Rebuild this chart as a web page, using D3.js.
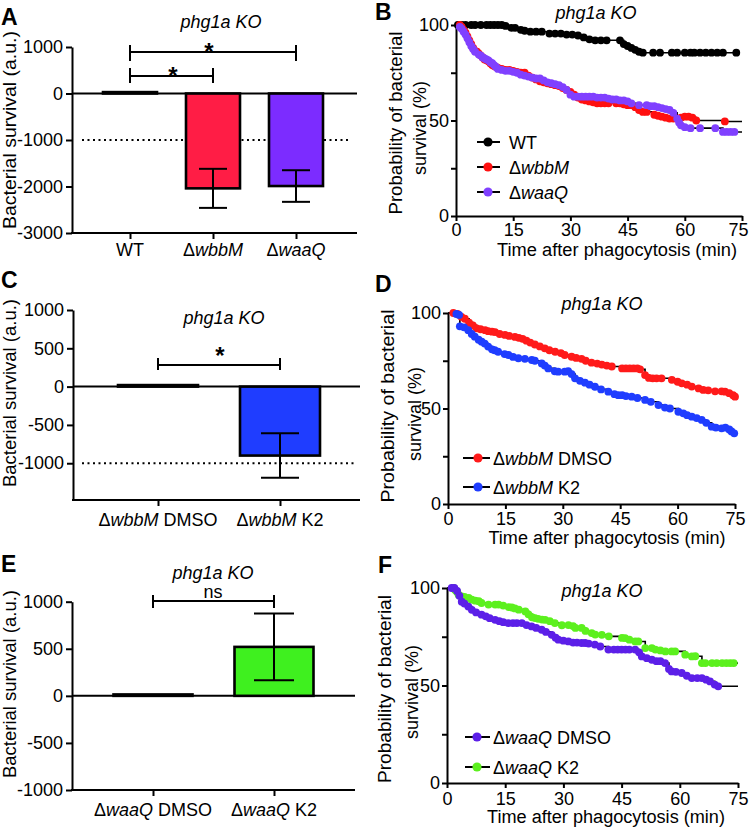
<!DOCTYPE html>
<html><head><meta charset="utf-8">
<script src="https://cdn.jsdelivr.net/npm/d3@7"></script>
<style>
body{margin:0;background:#fff}
svg{display:block;font-family:"Liberation Sans",Arial,sans-serif}
.axis path,.axis line{stroke:#000;stroke-width:2;fill:none}
.axis text{font-size:18px;fill:#000;font-family:"Liberation Sans",Arial,sans-serif}
text{fill:#000}
</style></head><body>
<svg id="c" width="750" height="829"></svg>
<script>
// ---------------- DATA ----------------
const catsA = ["WT", "ΔwbbM", "ΔwaaQ"];
const valsA = [30, -2040, -1990];
const errsA = [0, 420, 340];
const colorsA = ["#ffffff", "#ff1d45", "#7c2cff"];
const ticksA = [1000, 0, -1000, -2000, -3000];

const catsC = ["ΔwbbM DMSO", "ΔwbbM K2"];
const valsC = [20, -900];
const errsC = [0, 290];
const colorsC = ["#ffffff", "#1f3dff"];
const ticksC = [1000, 500, 0, -500, -1000];

const catsE = ["ΔwaaQ DMSO", "ΔwaaQ K2"];
const valsE = [15, 520];
const errsE = [0, 355];
const colorsE = ["#ffffff", "#3ff01f"];
const ticksE = [1000, 500, 0, -500, -1000];

const timeTicks = [0, 15, 30, 45, 60, 75];
const survTicks = [0, 25, 50, 75, 100];
const survLabels = [0, 50, 100];

// Kaplan-Meier points [time (min), survival (%)]
const kmB_WT = [[0.5,100],[1.5,100],[2.5,100],[4,100],[5,100],[6.5,100],[8,100],[9,100],[10,100],[11,100],[12,100],[13,99.5],[14.5,98.5],[15.5,98.5],[17,97.5],[18,97],[19.5,96.5],[21,96.5],[22.5,96.5],[24.5,95.5],[26,95.5],[27.5,95.5],[29,95],[30.5,95],[32,94.5],[33.5,93.5],[35,92.5],[36.5,92],[38,92],[39.5,92],[43,92],[44,90],[45,89],[46,88],[47,87],[48,86],[49,85.5],[51.7,85.5],[53.5,85.5],[56.6,85.5],[58,85.5],[60,85.5],[61.5,85.5],[62.5,85.5],[64,85.5],[65.5,85.5],[67,85.5],[68.5,85.5],[70,85.5],[73.5,85.5]];
const kmB_wbbM = [[1,100],[1.5,99],[2,97.5],[2.5,96],[3,94],[3.5,92],[4,90],[4.5,88],[5,86.5],[5.5,86],[6,85],[6.5,84],[7,83],[7.5,82],[8,81.5],[8.5,81],[9,80],[9.5,79],[10,78.5],[10.5,78],[11,77.5],[12,77],[13,76.5],[14,76.5],[15,76],[16,75.5],[17,75],[18,75],[19,73.5],[20,72.5],[21,71.5],[22,70.5],[23,70],[24,69.5],[25,69],[26,68.5],[27,68],[28,67],[29,66],[30,65],[31,63.5],[32,62],[33,61],[34,60.5],[35,60],[36,59.5],[37,59],[38,59],[39,59],[40,59],[42,59],[43,59],[44,58.5],[45,58],[46,58],[47,57],[48,55.5],[49,54.5],[50,54.5],[52,53],[53,52.5],[54,52],[55,51.5],[56,51],[57,51],[58,51],[59,51.5],[60,52],[61,52],[62,51.5],[63,50],[70.5,49.5]];
const kmB_waaQ = [[1,99],[1.5,98],[2,96.5],[2.5,95],[3,93],[3.5,91],[4,89],[4.5,87.5],[5,86],[6,84.5],[6.5,84],[7,83],[7.5,82.5],[8,82],[8.5,81.5],[9,80.5],[9.5,80],[10,79],[10.5,78],[11,77],[12,76.5],[13,76],[14,76],[15,75.5],[16,75],[17,74],[18,73.5],[19,73],[20,72.5],[21,72],[22,72],[23,71],[24,70],[25,69.5],[26,69],[27,68.5],[28,67.5],[29,66],[30,63.5],[31,62.5],[32,62.5],[33,62.5],[34,62.5],[35,62.5],[36,62.5],[37,62],[38,62],[39,62],[40,61.5],[41,61],[42,61],[43,60.5],[44,60.5],[45,60],[46,59],[48,58],[50,58],[51,57.5],[52,57.5],[53,57],[54,56.5],[55,56],[56,55.5],[57,54],[58,51],[58.5,49],[59,47.5],[60,46.5],[61.5,46],[64,46],[68,46],[70,44],[71,44],[72,44],[73,44]];

const kmD_DMSO = [[1.4,100],[2.5,99.5],[3.5,98],[4.4,97],[5.5,95],[6.5,93.5],[7.5,92],[8.5,91.5],[9.7,91],[10.5,90.5],[11.5,90.2],[12.3,90],[13.5,89],[14.9,88.5],[16,88],[17.5,87.5],[18.5,87],[19.5,86.5],[20.5,85.5],[21.5,84.5],[22.7,83.5],[24,82.5],[25.3,81.5],[26.5,80.5],[28,79.7],[29.5,79],[30.5,78],[32.3,77.1],[33.5,76.5],[34.9,76],[36,75],[37.5,74],[39,73.5],[40.2,73],[41.5,72.5],[42.8,72],[45.5,71],[46.5,71],[47.5,71],[48.5,71],[49.5,71],[50.2,70.5],[51.5,67.5],[52.5,66],[53.5,65.8],[54.5,65.8],[55.8,65.8],[58.5,65],[60,64],[61.1,63.2],[62.5,62.5],[63.7,61.5],[65.5,60.5],[66.7,59.7],[68,59.5],[69.8,59],[71.5,59],[72.4,58.8],[73.5,58],[74.5,57],[75,56.2]];
const kmD_K2 = [[2.2,99.5],[2.9,99],[3.1,93],[4.2,92.5],[5.3,91],[6.2,89],[7,87.6],[8,86],[8.8,85],[9.6,84],[10.5,82.4],[11.5,81],[12.2,80.5],[13.1,79.7],[14.8,78.5],[15.8,78],[17,77],[18.4,76.3],[20.1,76],[21.9,75.4],[22.7,75],[24.5,73.6],[25.3,72.5],[26.2,71],[27.9,69.5],[28.8,69.3],[30.5,69.3],[31.4,69.5],[32.3,68],[33.2,65.8],[34.5,64.5],[35.8,63.5],[37,62.5],[38.4,61.4],[40,60],[41.9,58.8],[43.5,57.5],[44.5,57],[45.5,57],[46.5,56.5],[48,56.2],[49.5,55.5],[51.5,54.5],[53,53.5],[55,51.8],[56.7,50.5],[58,50],[60.2,48.3],[61.5,47.5],[62.5,46.5],[63.7,45.7],[65,45],[66.3,44],[67.5,42.5],[68.9,40.5],[70,40],[71.5,39.6],[72.5,40],[73.5,39],[74.1,38],[74.8,37]];

const kmF_DMSO = [[1.2,100],[1.9,100],[2.6,98.5],[3.2,96],[3.8,93],[4.5,92],[5.5,90.5],[6.4,88.8],[7.5,87.5],[8.9,86.3],[10,85.5],[11,84.5],[12.4,83.7],[13.5,83],[14.5,82.5],[15.8,82],[17,82],[18,82],[19.3,82],[20.5,81],[21.8,80.3],[23,79.5],[24.4,78.6],[25.5,77.5],[27,76],[28,74.5],[28.7,73.5],[30,73],[31.3,72.6],[32.5,72],[33.5,72],[34.7,71.8],[35.6,71.8],[36.5,71.5],[38.1,71],[39.5,70],[41.6,68.4],[43,68.4],[44,68.4],[45,68.4],[46,68.4],[47,68.4],[48.5,68.4],[49.5,67],[50.2,64.9],[51.5,64],[52.8,63.2],[54,62.5],[55,62.5],[56.2,61.5],[57.2,58.5],[57.9,57.2],[59,57],[60.5,56.4],[61.8,55],[63.1,53.8],[64.5,53.8],[65.7,53.8],[66.8,53],[67.8,52.1],[69,50.5],[69.9,49.6]];
const kmF_K2 = [[1.7,100],[2.1,99],[2.6,98],[3,96.6],[3.8,95.7],[4.5,95.5],[5.6,94.9],[6.4,94],[7.3,93.5],[8.2,93.2],[8.9,92.3],[10.7,91.5],[12.4,91.5],[13.3,91.5],[14.5,91],[15.9,90.2],[16.7,90],[17.5,89.5],[18.5,88.9],[20.2,88],[21,86.5],[21.9,85],[22.7,84.6],[23.5,84.2],[24.5,83.8],[25.3,83.7],[26.5,83],[27.8,82],[29.6,80.9],[31.3,81],[32.5,80.5],[33.1,79.5],[34.7,79.5],[35.7,78],[37.3,76.9],[38.2,76.1],[39.9,76],[41.7,75.2],[45.1,74.4],[45.9,74.3],[47,73.5],[48.5,72.6],[49.3,72.6],[51.1,69.2],[52.8,69.2],[53.7,68.4],[55,68],[56.3,67.5],[57.9,67.5],[58.8,67.5],[61.4,65.8],[63.1,64.9],[64,65],[65.7,61.5],[66.6,61.5],[68.3,61.5],[69.5,61.5],[70.9,61.5],[72,61.5],[73,61.5],[73.9,61.5]];

// ---------------- DRAWING ----------------
const svg = d3.select("#c");

function rich(sel, str) {
  str.split(/(wbbM|waaQ)/).forEach(p => {
    if (!p) return;
    const t = sel.append("tspan").text(p);
    if (/^(wbbM|waaQ)$/.test(p)) t.attr("font-style", "italic");
  });
}

function letter(txt, x, y) {
  svg.append("text").attr("x", x).attr("y", y).attr("font-size", 23)
    .attr("font-weight", "bold").text(txt);
}
function title(x, y) {
  svg.append("text").attr("x", x).attr("y", y).attr("text-anchor", "middle")
    .attr("font-size", 18).attr("font-style", "italic").text("phg1a KO");
}

function barPanel(o) {
  const g = svg.append("g");
  const y = d3.scaleLinear().domain(o.yDomain).range(o.yRange);
  const x = d3.scalePoint().domain(o.cats).range(o.xRange);
  const yb = y(o.yDomain[0]);

  g.append("g").attr("class", "axis").attr("transform", `translate(${o.axisX[0]},0)`)
    .call(d3.axisLeft(y).tickValues(o.ticks).tickFormat(d => String(d)).tickSize(6).tickSizeOuter(0).tickPadding(3));
  const gx = g.append("g").attr("class", "axis").attr("transform", `translate(0,${yb})`)
    .call(d3.axisBottom(x).tickFormat("").tickSize(6).tickSizeOuter(0));
  gx.select(".domain").remove();
  gx.append("line").attr("x1", o.axisX[0] - 1).attr("x2", o.axisX[1]).attr("y1", 0).attr("y2", 0)
    .attr("stroke", "#000").attr("stroke-width", 2);
  o.cats.forEach(c => {
    g.append("text").attr("x", x(c)).attr("y", yb + o.labDy).attr("text-anchor", "middle")
      .attr("font-size", 18).call(rich, c);
  });

  if (o.dotted) {
    g.append("line").attr("x1", o.dotted[1]).attr("x2", o.dotted[2])
      .attr("y1", y(o.dotted[0])).attr("y2", y(o.dotted[0]))
      .attr("stroke", "#000").attr("stroke-width", 2).attr("stroke-dasharray", "2,3.5");
  }
  g.append("line").attr("x1", o.axisX[0]).attr("x2", o.axisX[1]).attr("y1", y(0)).attr("y2", y(0))
    .attr("stroke", "#000").attr("stroke-width", 2);

  g.selectAll("rect.bar").data(o.cats).join("rect")
    .attr("x", c => x(c) - o.barW / 2)
    .attr("y", (c, i) => Math.min(y(0), y(o.vals[i])))
    .attr("width", o.barW)
    .attr("height", (c, i) => Math.abs(y(o.vals[i]) - y(0)))
    .attr("fill", (c, i) => o.colors[i])
    .attr("stroke", "#000").attr("stroke-width", 2.6);

  o.cats.forEach((c, i) => {
    if (!o.errs[i]) return;
    const cx = x(c), y1 = y(o.vals[i] - o.errs[i]), y2 = y(o.vals[i] + o.errs[i]);
    g.append("line").attr("x1", cx).attr("x2", cx).attr("y1", y1).attr("y2", y2).attr("stroke", "#000").attr("stroke-width", 2);
    [y1, y2].forEach(yy => g.append("line").attr("x1", cx - o.capW / 2).attr("x2", cx + o.capW / 2)
      .attr("y1", yy).attr("y2", yy).attr("stroke", "#000").attr("stroke-width", 2));
  });

  o.brackets.forEach(b => {
    const x1 = x(b.a), x2 = x(b.b);
    g.append("path").attr("d", `M${x1},${b.y - b.up}V${b.y + b.down}M${x1},${b.y}H${x2}M${x2},${b.y - b.up}V${b.y + b.down}`)
      .attr("stroke", "#000").attr("stroke-width", 2).attr("fill", "none");
    g.append("text").attr("x", b.tx).attr("y", b.ty).attr("text-anchor", "middle")
      .attr("font-size", b.fs).attr("font-weight", b.bold ? "bold" : null).text(b.label);
  });

  g.append("text").attr("transform", `translate(${o.yLab[0]},${o.yLab[1]}) rotate(-90)`)
    .attr("text-anchor", "middle").attr("font-size", 18)
    .attr("textLength", o.yLab[2]).attr("lengthAdjust", "spacingAndGlyphs")
    .text("Bacterial survival (a.u.)");
}

function kmPanel(o) {
  const g = svg.append("g");
  const x = d3.scaleLinear().domain([0, 75]).range(o.xRange);
  const y = d3.scaleLinear().domain([0, 100]).range(o.yRange);

  g.append("g").attr("class", "axis").attr("transform", `translate(${o.xRange[0]},0)`)
    .call(d3.axisLeft(y).tickValues(survTicks).tickFormat(d => survLabels.includes(d) ? String(d) : "")
      .tickSize(5).tickSizeOuter(0).tickPadding(2));
  const gx = g.append("g").attr("class", "axis").attr("transform", `translate(0,${o.yRange[0]})`)
    .call(d3.axisBottom(x).tickValues(timeTicks).tickSize(5).tickSizeOuter(0).tickPadding(o.xPad));
  if (o.lastShift) gx.selectAll(".tick text").filter(d => d === 75).attr("dx", o.lastShift);

  const line = d3.line().x(d => x(d[0])).y(d => y(d[1])).curve(d3.curveStepAfter);
  o.series.forEach(s => {
    const last = s.data[s.data.length - 1];
    const pts = [[0, 100]].concat(s.data, s.end ? [[s.end, last[1]]] : []);
    g.append("path").attr("d", line(pts)).attr("fill", "none").attr("stroke", "#000").attr("stroke-width", 1.6);
  });
  o.series.forEach(s => {
    g.append("g").selectAll("circle").data(s.data).join("circle")
      .attr("cx", d => x(d[0])).attr("cy", d => y(d[1])).attr("r", 3.9).attr("fill", s.color);
  });

  o.legend.forEach(([lab, col, ly]) => {
    g.append("line").attr("x1", o.leg.x0).attr("x2", o.leg.x1).attr("y1", ly).attr("y2", ly)
      .attr("stroke", "#000").attr("stroke-width", 2);
    g.append("circle").attr("cx", o.leg.cx).attr("cy", ly).attr("r", 4.6).attr("fill", col);
    g.append("text").attr("x", o.leg.tx).attr("y", ly + 6.5).attr("font-size", 18).call(rich, lab);
  });

  g.append("text").attr("x", o.xt[0]).attr("y", o.xt[1]).attr("text-anchor", "middle").attr("font-size", 18)
    .attr("textLength", o.xt[2]).attr("lengthAdjust", "spacingAndGlyphs").text("Time after phagocytosis (min)");
  g.append("text").attr("transform", `translate(${o.yt1[0]},${o.yt1[1]}) rotate(-90)`)
    .attr("text-anchor", "middle").attr("font-size", 18)
    .attr("textLength", o.yt1[2]).attr("lengthAdjust", "spacingAndGlyphs").text("Probability of bacterial");
  g.append("text").attr("transform", `translate(${o.yt2[0]},${o.yt2[1]}) rotate(-90)`)
    .attr("text-anchor", "middle").attr("font-size", 18).text("survival (%)");
}

// Panel A
barPanel({
  cats: catsA, vals: valsA, errs: errsA, colors: colorsA, ticks: ticksA,
  yDomain: [-3000, 1000], yRange: [233, 47], xRange: [130, 296], axisX: [72, 357],
  labDy: 23, barW: 54, capW: 28, dotted: [-1000, 82, 350],
  brackets: [
    {a: "WT", b: "ΔwaaQ", y: 52, up: 7, down: 9, label: "*", tx: 209, ty: 60, fs: 24, bold: true},
    {a: "WT", b: "ΔwbbM", y: 76, up: 8, down: 7, label: "*", tx: 173, ty: 84, fs: 24, bold: true}
  ],
  yLab: [16, 130, 198]
});
letter("A", 1, 25);
title(221, 28);

// Panel C
barPanel({
  cats: catsC, vals: valsC, errs: errsC, colors: colorsC, ticks: ticksC,
  yDomain: [-1480, 1000], yRange: [500, 310], xRange: [158, 280], axisX: [73, 360],
  labDy: 26, barW: 80, capW: 38, dotted: [-1000, 82, 357],
  brackets: [
    {a: catsC[0], b: catsC[1], y: 365, up: 7, down: 5, label: "*", tx: 220, ty: 364, fs: 24, bold: true}
  ],
  yLab: [16, 393, 188]
});
letter("C", 1, 288);
title(224, 324);

// Panel E
barPanel({
  cats: catsE, vals: valsE, errs: errsE, colors: colorsE, ticks: ticksE,
  yDomain: [-1000, 1000], yRange: [790, 601.7], xRange: [153, 274], axisX: [72, 355],
  labDy: 26, barW: 79, capW: 40, dotted: null,
  brackets: [
    {a: catsE[0], b: catsE[1], y: 601, up: 6, down: 7, label: "ns", tx: 213, ty: 598, fs: 18, bold: false}
  ],
  yLab: [16, 684, 188]
});
letter("E", 1, 572);
title(213, 579);

// Panel B
kmPanel({
  xRange: [456, 742], yRange: [216, 25], xPad: 2, lastShift: -4,
  series: [
    {data: kmB_WT, color: "#000000", end: 74},
    {data: kmB_wbbM, color: "#ff1010", end: 75},
    {data: kmB_waaQ, color: "#8040ff", end: 75}
  ],
  legend: [["WT", "#000000", 142], ["ΔwbbM", "#ff1010", 167], ["ΔwaaQ", "#8040ff", 192]],
  leg: {x0: 477, x1: 500, cx: 488, tx: 509},
  xt: [617, 256, 240], yt1: [402, 123, 183], yt2: [426, 128]
});
letter("B", 375, 20);
title(596, 19);

// Panel D
kmPanel({
  xRange: [448, 735], yRange: [504, 313], xPad: 3,
  series: [
    {data: kmD_DMSO, color: "#ff1a1a", end: null},
    {data: kmD_K2, color: "#1f3dff", end: null}
  ],
  legend: [["ΔwbbM DMSO", "#ff1a1a", 458], ["ΔwbbM K2", "#1f3dff", 487]],
  leg: {x0: 463, x1: 490, cx: 478, tx: 493},
  xt: [607, 544, 237], yt1: [394, 406, 193], yt2: [421, 414]
});
letter("D", 375, 292);
title(602, 310);

// Panel F
kmPanel({
  xRange: [447, 738], yRange: [783, 588], xPad: 4,
  series: [
    {data: kmF_K2, color: "#5cf01e", end: 75},
    {data: kmF_DMSO, color: "#5c1fe8", end: 75}
  ],
  legend: [["ΔwaaQ DMSO", "#5c1fe8", 737], ["ΔwaaQ K2", "#5cf01e", 767]],
  leg: {x0: 465, x1: 490, cx: 477, tx: 493},
  xt: [606, 823, 238], yt1: [391, 689, 188], yt2: [418, 692]
});
letter("F", 378, 573);
title(602, 597);
</script>
</body></html>
